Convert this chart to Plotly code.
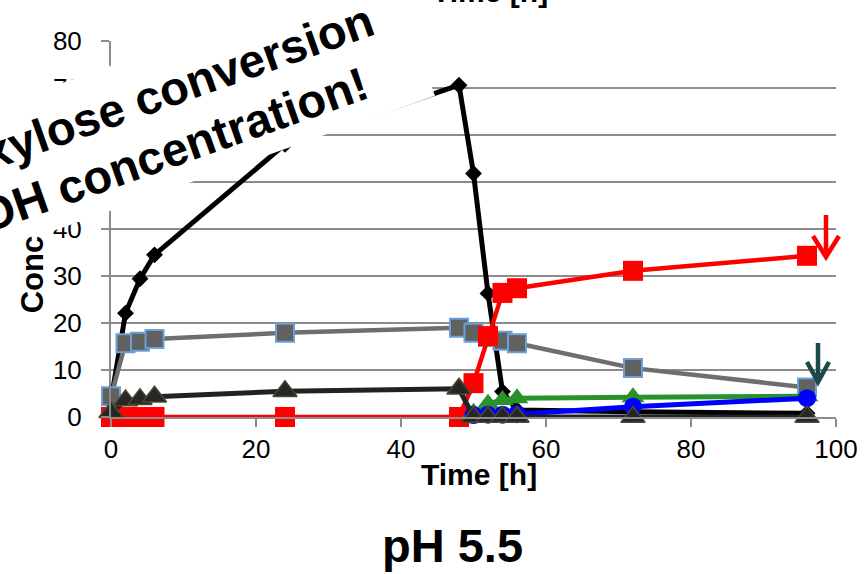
import math
import plotly.graph_objects as go

# Sampling times [h]
time_h = [0, 2, 4, 6, 24, 48, 50, 52, 54, 56, 72, 96]
late_h = [50, 52, 54, 56, 72, 96]

# Concentrations [g/L]
black_diamond = [3.5, 22.1, 29.4, 34.5, 58.0, 70.6, 51.8, 26.3, 5.4, 1.5, 1.1, 0.8]
gray_square = [4.4, 15.7, 16.0, 16.6, 17.9, 19.0, 17.9, 17.0, 16.2, 15.7, 10.4, 6.3]
red_square = [0, 0, 0, 0, 0, 0, 7.2, 17.2, 26.4, 27.4, 31.1, 34.3]
dark_triangle = [1.0, 3.5, 3.8, 4.3, 5.5, 6.0, 0, 0, 0, 0, 0, 0]
green_triangle = [0.9, 2.8, 3.6, 4.0, 4.2, 4.4]
blue_circle = [0.4, 0.5, 0.5, 0.6, 2.2, 4.0]

x_ticks = [0, 20, 40, 60, 80, 100]
y_ticks = [0, 10, 20, 30, 40, 50, 60, 70, 80]

W, H = 868, 574
L, R, T, B = 111, 32, 41, 157
PW, PH = W - L - R, H - T - B
GRID = "#8c8c8c"
FONT = "Liberation Sans"

# callout geometry: frame rotated by ANGLE degrees (s along text, t across)
ANGLE = 19.5
CU, SU = math.cos(math.radians(ANGLE)), math.sin(math.radians(ANGLE))
BOX_S = (-160, 378)
BOX_T = (99, 235.5)


def px(x):
    return (x - L) / PW


def py(y):
    return (H - B - y) / PH


def frame_to_px(s, t):
    return s * CU + t * SU, -s * SU + t * CU


def path(points_groups, close=False):
    parts = []
    for pts in points_groups:
        seg = []
        for i, (x, y) in enumerate(pts):
            seg.append(("M" if i == 0 else "L") + f"{px(x):.5f},{py(y):.5f}")
        parts.append(" ".join(seg) + (" Z" if close else ""))
    return " ".join(parts)


fig = go.Figure()

series = [
    (time_h, black_diamond, "#000000", 5,
     dict(symbol="diamond", size=13, color="#000000")),
    (time_h, gray_square, "#6e6e6e", 4.5,
     dict(symbol="square", size=18, color="#616161",
          line=dict(color="#6a9fd8", width=2))),
    (time_h, red_square, "#ff0000", 4.5,
     dict(symbol="square", size=20, color="#ff0000")),
    (late_h, green_triangle, "#2a922a", 5,
     dict(symbol="triangle-up", size=20, color="#2a922a")),
    (late_h, blue_circle, "#0000ff", 5,
     dict(symbol="circle", size=18, color="#0000ff")),
    (time_h, dark_triangle, "#222222", 5,
     dict(symbol="triangle-up", size=21, color="#262626",
          line=dict(color="#4d4630", width=1.5))),
]
for xs, ys, col, lw, mk in series:
    fig.add_trace(go.Scatter(x=xs, y=ys, mode="lines+markers",
                             line=dict(color=col, width=lw),
                             marker=mk, cliponaxis=False,
                             showlegend=False))

box_corners = [frame_to_px(BOX_S[0], BOX_T[0]), frame_to_px(BOX_S[1], BOX_T[0]),
               frame_to_px(BOX_S[1], BOX_T[1]), frame_to_px(BOX_S[0], BOX_T[1])]
l1x, l1y = frame_to_px(139.4, 140.7)
l2x, l2y = frame_to_px(89.8, 198.7)

annotations = [
    # y-axis title
    dict(text="<b>Conc</b>", x=px(32.3), y=py(315),
         xanchor="center", yanchor="bottom", textangle=-90,
         font=dict(family=FONT, size=31, color="black")),
    dict(text="<b>xylose conversion</b>", x=px(l1x), y=py(l1y),
         xanchor="center", yanchor="middle", textangle=-ANGLE,
         font=dict(family=FONT, size=47, color="black")),
    dict(text="<b>EtOH concentration!</b>", x=px(l2x), y=py(l2y),
         xanchor="center", yanchor="middle", textangle=-ANGLE,
         font=dict(family=FONT, size=47, color="black")),
    # axis title of the panel above
    dict(text="<b>Time [h]</b>", x=px(489.5), y=py(-8.4),
         xanchor="center", yanchor="middle",
         font=dict(family=FONT, size=30, color="black")),
    dict(text="<b>Time [h]</b>", x=px(478.5), y=py(474.6),
         xanchor="center", yanchor="middle",
         font=dict(family=FONT, size=30, color="black")),
    dict(text="<b>pH 5.5</b>", x=px(452.5), y=py(545.7),
         xanchor="center", yanchor="middle",
         font=dict(family=FONT, size=47, color="black")),
]
for a in annotations:
    a.update(xref="paper", yref="paper", showarrow=False)

shapes = [
    # white callout box (drawn above the plot, below the text)
    dict(type="path", xref="paper", yref="paper", layer="above",
         path=path([box_corners], close=True),
         fillcolor="white", line=dict(width=0)),
    dict(type="path", xref="paper", yref="paper",
         path=path([[(826, 215), (826, 254)],
                    [(813, 236), (826, 257), (839, 236)]]),
         line=dict(color="#ff0000", width=4.5)),
    dict(type="path", xref="paper", yref="paper",
         path=path([[(818, 343), (818, 380)],
                    [(807, 362), (818, 382), (829, 362)]]),
         line=dict(color="#1b4a4c", width=4.5)),
]

fig.update_layout(
    width=W, height=H,
    margin=dict(l=L, r=R, t=T, b=B, autoexpand=False),
    plot_bgcolor="white", paper_bgcolor="white",
    font=dict(family=FONT, color="black"),
    annotations=annotations, shapes=shapes,
    xaxis=dict(range=[0, 100], tickvals=x_ticks, ticks="outside",
               ticklen=8, tickwidth=2, tickcolor=GRID, showline=True,
               linecolor=GRID, linewidth=2, showgrid=False, zeroline=False,
               tickfont=dict(size=26, color="black"), ticklabelstandoff=0),
    yaxis=dict(range=[0, 80], tickvals=y_ticks, ticks="outside",
               ticklen=8, tickwidth=2, tickcolor=GRID, showline=True,
               linecolor=GRID, linewidth=2, showgrid=True, gridcolor=GRID,
               gridwidth=2, zeroline=False,
               tickfont=dict(size=26, color="black"), ticklabelstandoff=14),
)

fig.write_html("out.html")
